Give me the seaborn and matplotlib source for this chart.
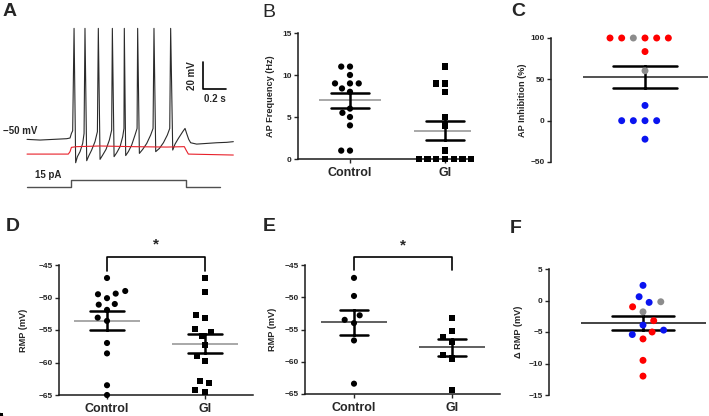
import numpy as np
import pandas as pd
import matplotlib
matplotlib.use('Agg')
import matplotlib.pyplot as plt
import seaborn as sns

# ---- panel A: traces (time in s, Vm in mV) ----
trace_t = [0.0, 0.113, 0.229, 0.345, 0.374, 0.386, 0.397, 0.409, 0.423, 0.438,
           0.461, 0.484, 0.496, 0.504, 0.519, 0.536, 0.562, 0.591, 0.612, 0.620,
           0.635, 0.658, 0.687, 0.716, 0.736, 0.742, 0.757, 0.780, 0.809, 0.832,
           0.843, 0.846, 0.858, 0.881, 0.910, 0.939, 0.957, 0.962, 0.977, 1.006,
           1.041, 1.075, 1.096, 1.104, 1.119, 1.151, 1.186, 1.220, 1.241, 1.249,
           1.267, 1.287, 1.316, 1.354, 1.374, 1.388, 1.406, 1.423, 1.475, 1.562,
           1.649, 1.736, 1.794]
trace_v = [-49.5, -50.0, -49.5, -49.0, -48.5, -45.1, -43.1, 32.7, -66.8, -62.3,
           -58.6, -52.5, -45.1, 32.7, -65.3, -61.9, -57.4, -51.2, -43.8, 32.7,
           -64.3, -61.1, -56.9, -50.0, -42.6, 32.7, -62.3, -59.4, -54.9, -47.5,
           -41.4, 32.7, -61.5, -58.6, -53.7, -46.3, -41.4, 32.7, -59.9, -56.9,
           -52.5, -46.3, -41.4, 32.7, -58.6, -56.2, -52.0, -46.3, -41.4, 32.7,
           -57.4, -53.0, -48.8, -43.8, -41.4, -45.1, -49.5, -52.0, -53.0, -52.5,
           -52.0, -51.7, -51.2]
gi_t = [0.0, 0.359, 0.374, 0.386, 0.432, 0.635, 0.925, 1.215, 1.368, 1.383, 1.403, 1.794]
gi_v = [-60.4, -60.4, -58.6, -55.4, -54.9, -54.4, -54.9, -55.2, -54.9, -57.4, -60.4, -61.1]
step_t = [0.0, 0.380, 0.380, 1.380, 1.380, 1.678]
step_pa = [0, 0, 15, 15, 0, 0]

# ---- B: AP frequency (Hz) ----
freq_control = [11, 11, 10, 9, 9, 9, 8.4, 8, 6, 5.5, 5, 4, 1, 1]
freq_gi = [11, 9, 9, 8, 5, 4, 1, 0, 0, 0, 0, 0, 0, 0]

# ---- C: AP inhibition (%) ----
inhib_pct = [100, 100, 100, 100, 100, 100, 83.6, 60.4, 18.4, 0, 0, 0, 0, -22.4]
inhib_kind = ['inhibited'] * 5 + ['mixed', 'inhibited', 'mixed'] + ['not inhibited'] * 6

# ---- D: RMP (mV) ----
rmp_control = [-47.0, -49.0, -49.5, -49.4, -50.1, -51.0, -51.1, -51.9, -53.1, -53.6,
               -57.0, -58.6, -63.5, -65.0]
rmp_gi = [-47.0, -49.2, -52.7, -53.2, -54.9, -55.3, -55.9, -57.3, -59.0, -59.8,
          -62.9, -63.2, -64.2, -64.5]

# ---- E: RMP (mV), second set ----
rmp2_control = [-47.0, -49.8, -52.8, -53.5, -54.0, -56.7, -63.4]
rmp2_gi = [-53.2, -55.3, -56.2, -56.9, -59.0, -59.5, -64.4]

# ---- F: change in RMP (mV) ----
d_rmp = [2.4, 0.6, -0.3, -3.9, -4.7, -5.4, -0.2, -1.8, -1.0, -3.2, -5.0, -6.1, -9.5, -12.0]
d_kind = ['not inhibited'] * 6 + ['mixed'] * 2 + ['inhibited'] * 6

groups = ['Control', 'GI']
group_markers = {'Control': 'o', 'GI': 's'}
kind_colors = {'inhibited': '#ff0000', 'mixed': '#8c8c8c', 'not inhibited': '#0a14f0'}

sns.set_style('ticks')
plt.rcParams['font.family'] = ['Liberation Sans', 'DejaVu Sans']
plt.rcParams['axes.edgecolor'] = '#1a1a1a'
plt.rcParams['axes.linewidth'] = 1.1

W, H = 709, 416
fig = plt.figure(figsize=(W / 100, H / 100), dpi=100)


def px_axes(left, top, right, bottom):
    return fig.add_axes([left / W, 1 - bottom / H, (right - left) / W, (bottom - top) / H])


def two_groups(a, b):
    return pd.DataFrame({'group': ['Control'] * len(a) + ['GI'] * len(b),
                         'value': list(a) + list(b)})


def dots(ax, df, order, size, gap, mean_color, mean_len, cap, hue=None):
    # swarm per group so each group keeps its own marker
    for g in order:
        sub = df[df['group'] == g]
        if hue is None:
            sns.swarmplot(data=sub, x='group', y='value', order=order, color='black',
                          marker=group_markers.get(g, 'o'), size=size, linewidth=gap,
                          edgecolor='none', clip_on=False, ax=ax)
        else:
            sns.swarmplot(data=sub, x='group', y='value', order=order, hue=hue,
                          palette=kind_colors, marker='o', size=size, linewidth=gap,
                          edgecolor='none', clip_on=False, legend=False, ax=ax)
    # mean line
    sns.pointplot(data=df, x='group', y='value', order=order, errorbar=None,
                  color=mean_color, markers='_', markersize=mean_len,
                  markeredgewidth=1.2, linestyle='none', ax=ax)
    # SEM bars
    sns.pointplot(data=df, x='group', y='value', order=order, errorbar='se',
                  capsize=cap, color='black', markersize=0, linestyle='none',
                  err_kws={'linewidth': 1.8}, ax=ax)


def style(ax, ylabel, lab_x, xaxis=True):
    sns.despine(ax=ax, bottom=not xaxis)
    ax.set_xlabel('')
    ax.set_ylabel(ylabel, fontsize=6.6, fontweight='bold')
    ax.yaxis.set_label_coords(lab_x, 0.5)
    ax.tick_params(axis='y', length=3, width=1.0, labelsize=6, pad=1.5)
    for t in ax.get_yticklabels():
        t.set_fontweight('bold')
    if xaxis:
        ax.tick_params(axis='x', length=3, width=1.0, labelsize=9, pad=3)
        for t in ax.get_xticklabels():
            t.set_fontweight('bold')
    else:
        ax.set_xticks([])


# ---- A ----
axA = px_axes(0, 20, 240, 200)
axA.plot(trace_t, trace_v, color='#2b2b2b', lw=0.8)
axA.plot(gi_t, gi_v, color='#e8202a', lw=0.8)
axA.set_xlim(-0.235, 1.852)
axA.set_ylim(-94.4, 38.9)
axA.axis('off')
axA.plot([1.533, 1.533, 1.733], [7.6, -12.4, -12.4], color='black', lw=1.2)
axA.text(1.432, -2.6, '20 mV', rotation=90, ha='center', va='center', fontsize=7, fontweight='bold')
axA.text(1.635, -19.6, '0.2 s', ha='center', va='center', fontsize=7, fontweight='bold')
axA.text(-0.209, -43.3, '\u221250 mV', ha='left', va='center', fontsize=7, fontweight='bold')

axI = px_axes(0, 170, 240, 200)
axI.plot(step_t, step_pa, color='#505050', lw=1.0)
axI.set_xlim(-0.235, 1.852)
axI.set_ylim(-29.9, 37.6)
axI.axis('off')
axI.text(0.07, 26.3, '15 pA', ha='left', va='center', fontsize=7, fontweight='bold')

# ---- B ----
axB = px_axes(298, 33, 470, 159)
dots(axB, two_groups(freq_control, freq_gi), groups, 4.5, 1.5, '#9a9a9a', 44, 0.39)
axB.set_xlim(-0.547, 1.263)
axB.set_ylim(0, 15)
axB.set_yticks([0, 5, 10, 15])
style(axB, 'AP Frequency (Hz)', -0.134)

# ---- C ----
axC = px_axes(551, 38, 709, 162)
dfC = pd.DataFrame({'group': [''] * len(inhib_pct), 'value': inhib_pct, 'kind': inhib_kind})
dots(axC, dfC, [''], 5.0, 3.0, '#333333', 90, 0.4, hue='kind')
axC.set_xlim(-0.595, 0.405)
axC.set_ylim(-50, 100)
axC.set_yticks([-50, 0, 50, 100])
style(axC, 'AP Inhibition (%)', -0.152, xaxis=False)

# ---- D ----
axD = px_axes(59, 265, 253, 395)
dots(axD, two_groups(rmp_control, rmp_gi), groups, 4.4, 2.4, '#9a9a9a', 47, 0.34)
axD.set_xlim(-0.49, 1.49)
axD.set_ylim(-65, -45)
axD.set_yticks([-65, -60, -55, -50, -45])
style(axD, 'RMP (mV)', -0.160)
axD.plot([0, 0, 1, 1], [-45.9, -43.7, -43.7, -45.9], color='black', lw=1.2, clip_on=False)
axD.text(0.5, -41.9, '*', ha='center', va='center', fontsize=11, fontweight='bold')

# ---- E ----
axE = px_axes(305, 265, 500, 394)
dots(axE, two_groups(rmp2_control, rmp2_gi), groups, 4.4, 2.4, '#444444', 47, 0.29)
axE.set_xlim(-0.5, 1.49)
axE.set_ylim(-65, -45)
axE.set_yticks([-65, -60, -55, -50, -45])
style(axE, 'RMP (mV)', -0.144)
axE.plot([0, 0, 1, 1], [-45.8, -43.8, -43.8, -45.8], color='black', lw=1.2, clip_on=False)
axE.text(0.5, -42.0, '*', ha='center', va='center', fontsize=11, fontweight='bold')

# ---- F ----
axF = px_axes(549, 269, 709, 395)
dfF = pd.DataFrame({'group': [''] * len(d_rmp), 'value': d_rmp, 'kind': d_kind})
dots(axF, dfF, [''], 5.0, 3.0, '#222222', 90, 0.39, hue='kind')
axF.set_xlim(-0.5875, 0.4125)
axF.set_ylim(-15, 5)
axF.set_yticks([-15, -10, -5, 0, 5])
style(axF, '\u0394 RMP (mV)', -0.1625, xaxis=False)

# panel letters
for letter, x, y, wt in [('A', 3, 3, 'bold'), ('B', 262, 4, 'normal'), ('C', 511, 3, 'bold'),
                         ('D', 6, 218, 'bold'), ('E', 263, 218, 'bold'), ('F', 510, 220, 'bold')]:
    fig.text(x / W, 1 - y / H, letter, ha='left', va='top', fontsize=14, fontweight=wt)

fig.savefig('out.png', dpi=100)
